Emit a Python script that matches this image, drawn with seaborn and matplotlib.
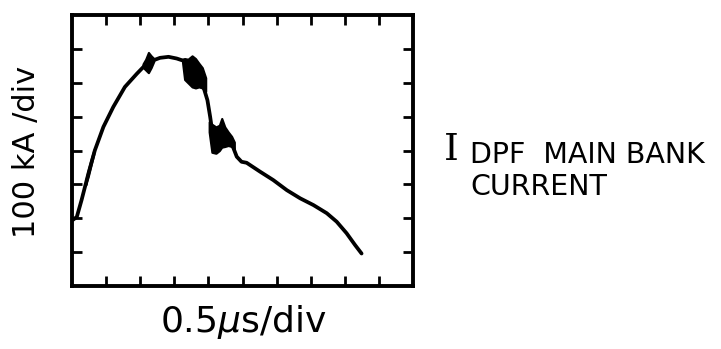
import matplotlib
matplotlib.use("Agg")
import matplotlib.pyplot as plt
import seaborn as sns
import pandas as pd

# Main bank current trace, in screen divisions (x: 0.5 us/div, y: 100 kA/div)
time_div = [0.02, 0.14, 0.28, 0.48, 0.67, 0.92, 1.21, 1.55, 1.90, 2.14, 2.34,
            2.58, 2.83, 3.07, 3.28, 3.51, 3.70, 3.85, 3.97, 4.05, 4.12, 4.22,
            4.39, 4.54, 4.68, 4.83, 4.97, 5.12, 5.51, 5.90, 6.30, 6.69, 7.08,
            7.47, 7.76, 8.05, 8.30, 8.49]
current_div = [1.95, 2.04, 2.54, 3.32, 4.01, 4.70, 5.29, 5.88, 6.27, 6.52, 6.65,
               6.74, 6.77, 6.72, 6.65, 6.48, 6.18, 5.89, 5.49, 5.00, 4.51, 4.26,
               4.46, 4.36, 4.21, 3.82, 3.67, 3.64, 3.38, 3.13, 2.83, 2.59, 2.39,
               2.15, 1.90, 1.56, 1.21, 0.96]

# Noise envelopes (lower / upper) where the trace smears out
spike_x = [2.08, 2.16, 2.24, 2.32, 2.40]
spike_lo = [6.46, 6.38, 6.30, 6.45, 6.64]
spike_hi = [6.56, 6.70, 6.90, 6.80, 6.72]

blob1_x = [3.24, 3.30, 3.40, 3.52, 3.62, 3.72, 3.82, 3.92]
blob1_lo = [6.60, 6.10, 6.00, 5.88, 5.85, 5.88, 5.85, 5.75]
blob1_hi = [6.70, 6.72, 6.70, 6.80, 6.72, 6.58, 6.45, 6.15]

blob2_x = [4.02, 4.10, 4.22, 4.32, 4.39, 4.48, 4.58, 4.68, 4.76]
blob2_lo = [4.55, 3.95, 3.92, 4.00, 4.10, 4.12, 4.15, 4.12, 4.05]
blob2_hi = [4.85, 4.78, 4.70, 4.75, 4.95, 4.70, 4.55, 4.42, 4.25]

blob3_x = [0.40, 0.48, 0.56, 0.64]
blob3_lo = [2.98, 3.25, 3.58, 3.90]
blob3_hi = [3.12, 3.45, 3.75, 4.02]

x_ticks = [1, 2, 3, 4, 5, 6, 7, 8, 9]
y_ticks = [1, 2, 3, 4, 5, 6, 7]

sns.set_style("white")
plt.rcParams["font.family"] = ["DejaVu Sans"]
plt.rcParams["text.color"] = "black"

fig = plt.figure(figsize=(7.21, 3.49), dpi=100)
ax = fig.add_axes([0.0999, 0.1805, 0.473, 0.776])

trace = pd.DataFrame({"t": time_div, "i": current_div})
sns.lineplot(data=trace, x="t", y="i", ax=ax, color="black", linewidth=2.7,
             sort=False, estimator=None, solid_capstyle="round",
             solid_joinstyle="round")

for bx, lo, hi in [(spike_x, spike_lo, spike_hi), (blob1_x, blob1_lo, blob1_hi),
                   (blob2_x, blob2_lo, blob2_hi), (blob3_x, blob3_lo, blob3_hi)]:
    ax.fill_between(bx, lo, hi, color="black", linewidth=1.5, edgecolor="black")

ax.set_xlim(0, 10)
ax.set_ylim(0, 8)
ax.set_xticks(x_ticks)
ax.set_yticks(y_ticks)
ax.set_xticklabels([])
ax.set_yticklabels([])
ax.set_xlabel("")
ax.set_ylabel("")
ax.tick_params(direction="in", length=7, width=2, color="black",
               top=True, right=True, bottom=True, left=True)
for s in ax.spines.values():
    s.set_visible(True)
    s.set_color("black")
    s.set_linewidth(2.8)

# Axis scale captions
fig.text(243 / 721, 17 / 349, "0.5$\\mu$s/div", fontsize=26, color="black",
         ha="center", va="baseline")
fig.text(27 / 721, 0.566, "100 kA /div", fontsize=22, color="black",
         rotation=90, ha="center", va="center")

# Trace caption
fig.text(0.615, 0.542, "I", fontsize=27, family="DejaVu Serif", color="black",
         ha="left", va="baseline")
fig.text(0.652, 0.533, "DPF  MAIN BANK", fontsize=20.5, color="black",
         ha="left", va="baseline")
fig.text(0.652, 0.441, "CURRENT", fontsize=20.5, color="black",
         ha="left", va="baseline")

fig.savefig("out.png", dpi=100, facecolor="white")
